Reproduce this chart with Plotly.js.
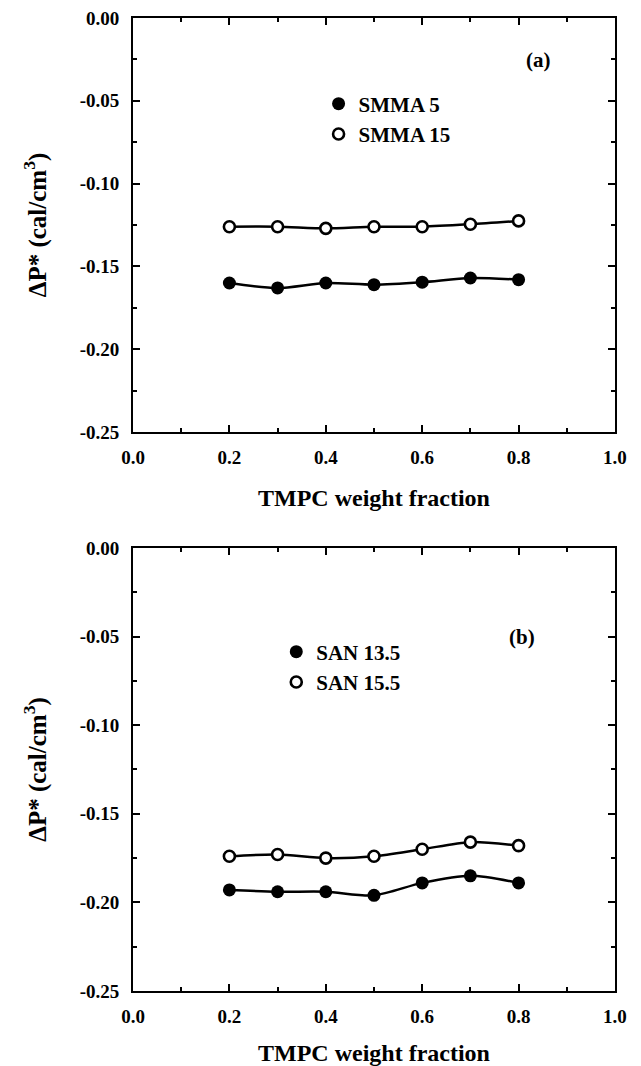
<!DOCTYPE html>
<html><head><meta charset="utf-8">
<script src="https://cdn.plot.ly/plotly-3.0.1.min.js"></script>
<style>html,body{margin:0;padding:0;background:#fff}</style>
</head><body>
<div id="chart" style="width:641px;height:1066px"></div>
<script>
const xFrac = [0.2, 0.3, 0.4, 0.5, 0.6, 0.7, 0.8];
const smma5  = [-0.160, -0.163, -0.160, -0.161, -0.1595, -0.157, -0.158];
const smma15 = [-0.126, -0.126, -0.127, -0.126, -0.126, -0.1245, -0.1225];
const san135 = [-0.193, -0.194, -0.194, -0.196, -0.189, -0.185, -0.189];
const san155 = [-0.174, -0.173, -0.175, -0.174, -0.170, -0.166, -0.168];
const xTicks = [0.0, 0.2, 0.4, 0.6, 0.8, 1.0];
const yTicks = [0.00, -0.05, -0.10, -0.15, -0.20, -0.25];

const F = 'Liberation Serif, Times New Roman, serif';
function lineTrace(y, xa, ya){
  return {x: xFrac, y: y, xaxis: xa, yaxis: ya, mode: 'lines', showlegend: false,
    line: {color: '#000', width: 2.5, shape: 'spline', smoothing: 0.8}, hoverinfo: 'skip'};
}
function markTrace(y, xa, ya, name, filled, legend){
  return {x: xFrac, y: y, xaxis: xa, yaxis: ya, mode: 'markers', name: name, legend: legend,
    marker: {symbol: 'circle', size: filled ? 13 : 11, color: filled ? '#000' : '#fff',
      line: {color: '#000', width: filled ? 0 : 2.6}}};
}
const data = [
  lineTrace(smma5, 'x', 'y'), lineTrace(smma15, 'x', 'y'),
  markTrace(smma5, 'x', 'y', 'SMMA 5', true, 'legend'),
  markTrace(smma15, 'x', 'y', 'SMMA 15', false, 'legend'),
  lineTrace(san135, 'x2', 'y2'), lineTrace(san155, 'x2', 'y2'),
  markTrace(san135, 'x2', 'y2', 'SAN 13.5', true, 'legend2'),
  markTrace(san155, 'x2', 'y2', 'SAN 15.5', false, 'legend2')
];
const tickFont = {family: F, size: 19, color: '#000', weight: 'bold'};
function xax(anchor){
  return {domain: [0.2075, 0.9594], anchor: anchor, range: [0, 1], tickvals: xTicks,
    ticktext: xTicks.map(v => v.toFixed(1)), ticks: 'inside', ticklen: 7, tickwidth: 2,
    tickcolor: '#000', showline: true, linewidth: 2, linecolor: '#000', mirror: 'ticks',
    showgrid: false, zeroline: false, tickfont: tickFont, ticklabelstandoff: 7,
    minor: {dtick: 0.1, tick0: 0, ticks: 'inside', ticklen: 4, tickwidth: 2, tickcolor: '#000', showgrid: false},
    title: {text: 'TMPC weight fraction', font: {family: F, size: 24, color: '#000', weight: 'bold'}, standoff: 22},
    automargin: false};
}
function yax(domain, anchor){
  return {domain: domain, anchor: anchor, range: [-0.25, 0], tickvals: yTicks,
    ticktext: yTicks.map(v => v.toFixed(2)), ticks: 'inside', ticklen: 7, tickwidth: 2,
    tickcolor: '#000', showline: true, linewidth: 2, linecolor: '#000', mirror: 'ticks',
    showgrid: false, zeroline: false, tickfont: tickFont, ticklabelstandoff: 8,
    minor: {dtick: 0.025, tick0: 0, ticks: 'inside', ticklen: 4, tickwidth: 2, tickcolor: '#000', showgrid: false},
    title: {text: 'ΔP* (cal/cm<sup>3</sup>)', font: {family: F, size: 25, color: '#000', weight: 'bold'}, standoff: 26},
    automargin: false};
}
const legFont = {family: F, size: 21, color: '#000', weight: 'bold'};
function leg(x, y){
  return {x: x, y: y, xanchor: 'left', yanchor: 'middle', font: legFont,
    bgcolor: 'rgba(0,0,0,0)', itemwidth: 30, borderwidth: 0, tracegroupgap: 0};
}
const layout = {
  width: 641, height: 1066, margin: {l: 0, r: 0, t: 0, b: 0},
  paper_bgcolor: '#fff', plot_bgcolor: '#fff', font: {family: F, color: '#000'},
  xaxis: xax('y'), yaxis: yax([0.5947, 0.9831], 'x'),
  xaxis2: xax('y2'), yaxis2: yax([0.0704, 0.4859], 'x2'),
  legend: leg(0.497, 1 - 119/1066),
  legend2: leg(0.431, 1 - 667/1066),
  annotations: [
    {text: '(a)', xref: 'paper', yref: 'paper', x: 538/641, y: 1 - 60/1066, xanchor: 'center', yanchor: 'middle',
     showarrow: false, font: {family: F, size: 21, color: '#000', weight: 'bold'}},
    {text: '(b)', xref: 'paper', yref: 'paper', x: 522/641, y: 1 - 637/1066, xanchor: 'center', yanchor: 'middle',
     showarrow: false, font: {family: F, size: 21, color: '#000', weight: 'bold'}}
  ]
};
Plotly.newPlot('chart', data, layout, {staticPlot: true});
</script>
</body></html>
